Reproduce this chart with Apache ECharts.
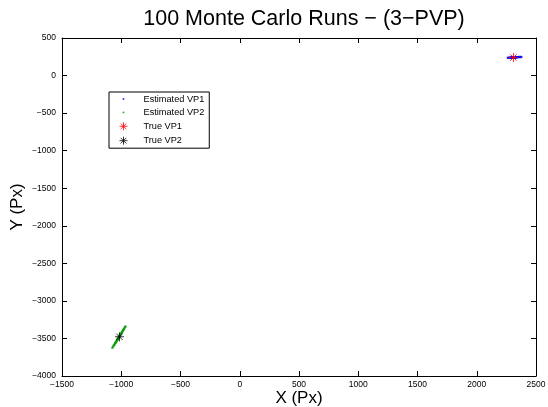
<!DOCTYPE html>
<html>
<head>
<meta charset="utf-8">
<script src="https://cdn.jsdelivr.net/npm/echarts@6/dist/echarts.min.js"></script>
<style>
  html, body { margin: 0; padding: 0; background: #fff; }
  #chart { width: 548px; height: 407px; }
</style>
</head>
<body>
<div id="chart"></div>
<script>
// 估计的消失点 VP1（蓝色）
const estVP1X = [2262, 2270, 2278, 2284, 2290, 2294, 2298, 2301, 2304, 2306, 2308, 2310, 2312, 2314, 2316,
  2318, 2321, 2324, 2327, 2331, 2335, 2340, 2346, 2352, 2360, 2368, 2376, 2298, 2315, 2322]
const estVP1Y = [236, 237, 238, 239, 239, 240, 240, 241, 240, 241, 240, 241, 241, 242, 241,
  242, 242, 243, 243, 244, 244, 245, 245, 246, 247, 247, 248, 239, 241, 242]

// 估计的消失点 VP2（绿色）
const estVP2X = [-1075, -1068, -1062, -1057, -1052, -1048, -1044, -1040, -1036, -1032, -1028, -1025, -1022, -1019, -1016,
  -1013, -1010, -1007, -1004, -1000, -996, -992, -988, -984, -980, -975, -970, -965, -1030, -1012]
const estVP2Y = [-3625, -3606, -3590, -3581, -3563, -3558, -3543, -3537, -3522, -3516, -3501, -3498, -3486, -3484, -3470,
  -3468, -3455, -3452, -3440, -3435, -3419, -3414, -3398, -3393, -3378, -3370, -3352, -3340, -3515, -3458]

// 真值
const trueVP1 = [2310, 240]
const trueVP2 = [-1015, -3478]

const seriesNames = ['Estimated VP1', 'Estimated VP2', 'True VP1', 'True VP2']
const xRange = [-1500, 2500]
const yRange = [-4000, 500]

const zip = (xs, ys) => xs.map((x, i) => [x, ys[i]])
const minus = v => String(v).replace('-', '\u2212')

const starPath = 'path://M0,-1L0,1M-1,0L1,0M-0.7,-0.7L0.7,0.7M-0.7,0.7L0.7,-0.7'
// 图例里的小圆点：外框点撑开包围盒，圆点本身很小
const dotPath = 'path://M-5,-5L-5,-5M5,5L5,5M-1.2,0A1.2,1.2,0,1,0,1.2,0A1.2,1.2,0,1,0,-1.2,0Z'
const font = 'Liberation Sans, Arial, Helvetica, sans-serif'

const chart = echarts.init(document.getElementById('chart'))

const mainAxis = {
  axisLine: { show: true, onZero: false, lineStyle: { color: '#000', width: 1 } },
  axisTick: { show: true, inside: true, length: 5, lineStyle: { color: '#000' } },
  splitLine: { show: false }
}
const sideAxis = {
  axisLine: { show: true, onZero: false, lineStyle: { color: '#000', width: 1 } },
  axisTick: { show: true, inside: true, length: 5, lineStyle: { color: '#000' } },
  axisLabel: { show: false },
  splitLine: { show: false }
}

chart.setOption({
  animation: false,
  backgroundColor: '#fff',
  textStyle: { fontFamily: font },
  title: {
    text: '100 Monte Carlo Runs \u2212 (3\u2212PVP)',
    left: 299,
    top: 3,
    textAlign: 'center',
    textStyle: { fontSize: 21.5, fontWeight: 'normal', color: '#000', fontFamily: font }
  },
  legend: {
    orient: 'vertical',
    left: 109,
    top: 92,
    padding: [1, 5, 1, 8],
    itemWidth: 22,
    itemHeight: 8,
    itemGap: 1.4,
    symbolKeepAspect: true,
    backgroundColor: '#fff',
    borderColor: '#000',
    borderWidth: 1,
    borderRadius: 0,
    textStyle: { fontSize: 9.2, lineHeight: 12, color: '#000', fontFamily: font, padding: [0, 0, 0, 4] },
    data: [
      { name: seriesNames[0], icon: dotPath, itemStyle: { color: '#0000ff', borderWidth: 0 } },
      { name: seriesNames[1], icon: dotPath, itemStyle: { color: '#009900', borderWidth: 0 } },
      { name: seriesNames[2], icon: starPath, itemStyle: { color: 'none', borderColor: '#ff0000', borderWidth: 1 } },
      { name: seriesNames[3], icon: starPath, itemStyle: { color: 'none', borderColor: '#000000', borderWidth: 1 } }
    ]
  },
  grid: { left: 62, right: 12, top: 38, bottom: 31, outerBoundsMode: 'none' },
  xAxis: [
    Object.assign({
      type: 'value', position: 'bottom', min: xRange[0], max: xRange[1], interval: 500,
      name: 'X (Px)', nameLocation: 'middle', nameGap: 14, nameMoveOverlap: false,
      nameTextStyle: { fontSize: 17, color: '#000', fontFamily: font },
      axisLabel: { fontSize: 8.5, color: '#000', margin: 4, formatter: minus }
    }, mainAxis),
    Object.assign({
      type: 'value', position: 'top', min: xRange[0], max: xRange[1], interval: 500
    }, sideAxis)
  ],
  yAxis: [
    Object.assign({
      type: 'value', position: 'left', min: yRange[0], max: yRange[1], interval: 500,
      name: 'Y (Px)', nameLocation: 'middle', nameGap: 36, nameMoveOverlap: false,
      nameTextStyle: { fontSize: 17, color: '#000', fontFamily: font },
      axisLabel: { fontSize: 8.5, color: '#000', margin: 6, formatter: minus }
    }, mainAxis),
    Object.assign({
      type: 'value', position: 'right', min: yRange[0], max: yRange[1], interval: 500
    }, sideAxis)
  ],
  series: [
    {
      name: seriesNames[0], type: 'scatter', symbol: 'circle', symbolSize: 2.5,
      itemStyle: { color: '#0000ff' }, data: zip(estVP1X, estVP1Y)
    },
    {
      name: seriesNames[1], type: 'scatter', symbol: 'circle', symbolSize: 2.5,
      itemStyle: { color: '#009900' }, data: zip(estVP2X, estVP2Y)
    },
    {
      name: seriesNames[2], type: 'scatter', symbol: starPath, symbolSize: 9,
      itemStyle: { color: 'none', borderColor: '#ff0000', borderWidth: 1 }, data: [trueVP1]
    },
    {
      name: seriesNames[3], type: 'scatter', symbol: starPath, symbolSize: 9,
      itemStyle: { color: 'none', borderColor: '#000000', borderWidth: 1 }, data: [trueVP2]
    }
  ]
})
</script>
</body>
</html>
